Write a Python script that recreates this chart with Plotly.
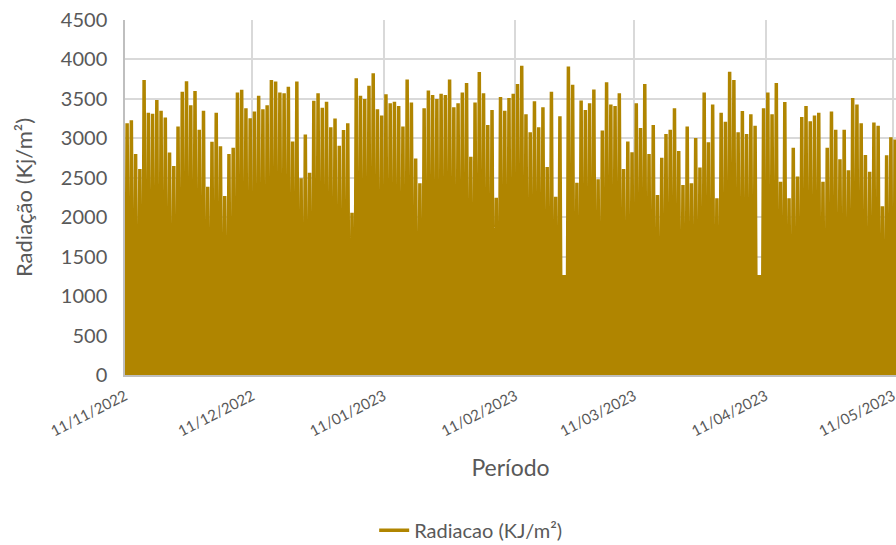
import pandas as pd
import plotly.graph_objects as go

# Pico diario de radiacao (KJ/m²), a partir de 11/11/2022
picos = [
    3190, 3230, 2800, 2610, 3740, 3325, 3310, 3485, 3350, 3265,
    2820, 2650, 3150, 3590, 3725, 3420, 3600, 3110, 3350, 2387,
    2957, 3325, 2900, 2270, 2800, 2880, 3580, 3615, 3380, 3255,
    3340, 3540, 3370, 3420, 3740, 3720, 3580, 3570, 3655,
    2960, 3720, 2493, 3050, 2565, 3477, 3570, 3387, 3465, 3140,
    3250, 2906, 3105, 3190, 2057, 3760, 3540, 3500, 3665, 3825,
    3370, 3290, 3560, 3445, 3465, 3410, 3150, 3745, 3455, 2745,
    2430, 3380, 3605, 3550, 3500, 3565, 3550, 3745, 3395, 3445,
    3580, 3700, 2767, 3455, 3840, 3570, 3170,
    3360, 2247, 3525, 3350, 3510, 3565, 3690, 3920, 3305, 3077,
    3470, 3140, 3395, 2636, 3590, 2260, 3280, 1267, 3910, 3680,
    2437, 3480, 3360, 3445, 3620, 2480, 3100, 3710, 3430, 3410,
    3570, 2610, 2960, 2825, 3445, 3130, 3690, 2800, 3170, 2280,
    2755, 3055,
    3110, 3380, 2840, 2408, 3150, 2430, 3005, 2630, 3580, 2950,
    3430, 2240, 3325, 3210, 3845, 3740, 3077, 3345, 3055, 3305,
    3160, 1267, 3380, 3580, 3305, 3700, 2450, 3460, 2240, 2880,
    2515, 3270, 3410, 3215, 3290, 3325, 2450, 2880, 3340, 3110,
    2735, 3110, 2595, 3510, 3430, 3190, 2790, 2575, 3200, 3160,
    2140, 2785, 3015, 2985,
]
noite = 0  # radiacao noturna

dias = pd.date_range("2022-11-11", periods=len(picos), freq="D")

x = []
y = []
for d, p in zip(dias, picos):
    x += [d + pd.Timedelta(hours=5), d + pd.Timedelta(hours=12), d + pd.Timedelta(hours=19)]
    y += [noite, p, noite]

cor = "#B08500"
cinza = "#595959"
fonte = "Lato"

fig = go.Figure()
fig.add_trace(go.Scatter(x=x, y=y, mode="lines", name="Radiacao (KJ/m²)",
                         line=dict(color=cor, width=3.5)))

fig.update_layout(
    width=896, height=545,
    margin=dict(l=125, r=0, t=20, b=170, autoexpand=False),
    paper_bgcolor="white", plot_bgcolor="white",
    font=dict(family=fonte, color=cinza),
    showlegend=True,
    legend=dict(orientation="h", x=0.449, xanchor="center", y=-0.437, yanchor="middle",
                font=dict(size=20, color=cinza)),
)

fig.update_xaxes(
    type="date", automargin=False,
    range=["2022-11-11", "2023-05-11 17:00"],
    tick0="2022-11-11", dtick="M1", tickformat="%d/%m/%Y",
    tickangle=-27, tickfont=dict(size=15, color=cinza),
    ticklabeloverflow="allow", ticklabelstandoff=5,
    showgrid=True, gridcolor="#D9D9D9", gridwidth=1.5,
    showline=True, linecolor="#BFBFBF", linewidth=1.5,
    zeroline=False,
    title=dict(text="Período", font=dict(size=23, color=cinza), standoff=22),
)
fig.update_yaxes(
    automargin=False,
    range=[0, 4500], dtick=500,
    tickfont=dict(size=20, color=cinza),
    showgrid=True, gridcolor="#D9D9D9", gridwidth=1.5,
    showline=True, linecolor="#BFBFBF", linewidth=1.5,
    zeroline=False, ticklabelstandoff=12,
    title=dict(text="Radiação (Kj/m²)", font=dict(size=22, color=cinza), standoff=22),
)

# tira a margem padrao do <body> para o grafico ocupar a janela toda
fig.write_html("out.html", config={"displayModeBar": False},
               post_script="document.body.style.margin='0';")
